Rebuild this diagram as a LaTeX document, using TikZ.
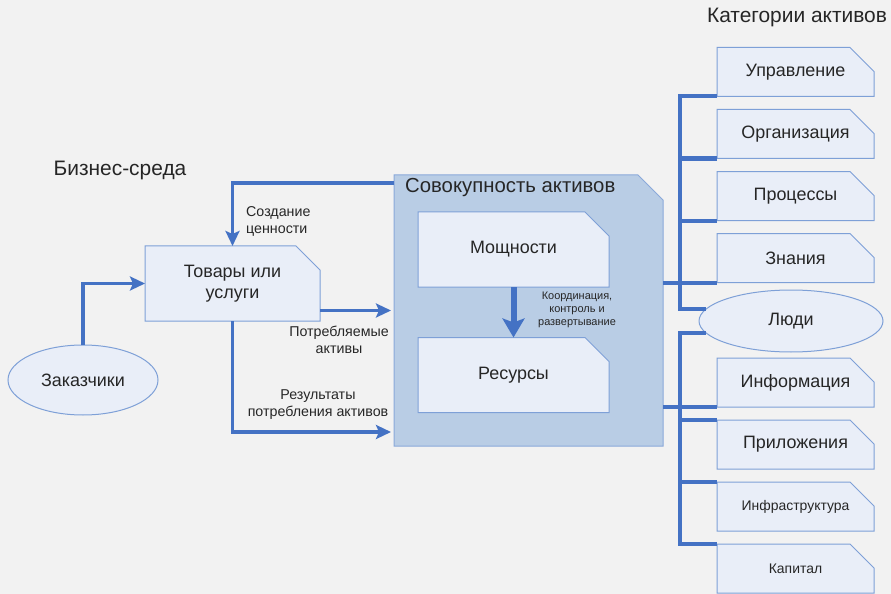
\documentclass[tikz,border=0pt]{standalone}
\usepackage{fontspec}
\setmainfont{Liberation Sans}
\usepackage{xcolor}
\usetikzlibrary{arrows.meta,positioning,shapes.geometric}

\definecolor{bgcol}{HTML}{F2F2F2}
\definecolor{cardfill}{HTML}{E9EEF8}
\definecolor{cardline}{HTML}{7EA0D7}
\definecolor{poolfill}{HTML}{B9CDE5}
\definecolor{poolline}{HTML}{8AA9DA}
\definecolor{flowblue}{HTML}{4472C4}
\definecolor{ink}{HTML}{262626}

\pgfdeclarelayer{background}
\pgfsetlayers{background,main}

\tikzset{
  % rectangle with the top right corner cut off, drawn behind the text
  cut box/.style n args={3}{
    rectangle,
    inner sep=0pt,
    outer sep=0pt,
    align=center,
    text=ink,
    append after command={
      \pgfextra{
        \begin{pgfonlayer}{background}
          \draw[draw=#2, fill=#1, line width=1bp, line join=miter]
            (\tikzlastnode.south west) -- (\tikzlastnode.north west)
            -- ([xshift=-#3]\tikzlastnode.north east)
            -- ([yshift=-#3]\tikzlastnode.north east)
            -- (\tikzlastnode.south east) -- cycle;
        \end{pgfonlayer}
      }
    }
  },
  card/.style={
    cut box={cardfill}{cardline}{24bp},
    font=\fontsize{18}{21}\selectfont
  },
  category/.style={
    card,
    minimum width=157bp,
    minimum height=49bp
  },
  pool/.style={
    cut box={poolfill}{poolline}{25bp}
  },
  client/.style={
    ellipse,
    draw=cardline,
    fill=cardfill,
    line width=1bp,
    inner sep=0pt,
    outer sep=0pt,
    text=ink,
    font=\fontsize{18}{21}\selectfont
  },
  heading/.style={text=ink, font=\fontsize{21}{24}\selectfont, inner sep=0pt},
  note/.style={text=ink, align=center, inner sep=0pt, font=\fontsize{14.3}{17}\selectfont},
  flow/.style={draw=flowblue, line width=3.5bp, -{Stealth[length=15bp,width=14bp,inset=3bp]}},
  bigflow/.style={draw=flowblue, line width=6bp, -{Stealth[length=19bp,width=22bp,inset=4bp]}},
  link/.style={draw=flowblue, line width=4bp}
}

\begin{document}
\begin{tikzpicture}[x=1bp,y=-1bp]
  % backdrop
  \begin{pgfonlayer}{background}
    \fill[bgcol] (0,0) rectangle (891,594);
  \end{pgfonlayer}
  \useasboundingbox (0,0) rectangle (891,594);

  \node[heading] (env) at (120,170) {Бизнес-среда};
  \node[heading] (cathead) at (797,17) {Категории активов};

  % business side
  \node[client, minimum width=150bp, minimum height=70bp] (customers) at (83,380) {Заказчики};
  \node[card, minimum width=175bp, minimum height=75bp] (goods) at (232.5,283.5) {Товары или\\услуги};

  % asset pool
  \node[pool, minimum width=269bp, minimum height=271bp] (pool) at (528.5,310.5) {};
  \node[heading, anchor=west, font=\fontsize{20.4}{23}\selectfont] (pooltitle) at (405,188) {Совокупность активов};
  \node[card, minimum width=191bp, minimum height=75bp] (capab) at (513.5,249.5) {Мощности};
  \node[card, minimum width=191bp, minimum height=75bp] (resources) at (513.5,375) {Ресурсы};

  % categories column
  \node[category] (mgmt) at (795.5,72) {Управление};
  \node[category, below=13bp of mgmt] (org) {Организация};
  \node[category, below=13bp of org] (proc) {Процессы};
  \node[category, below=13bp of proc] (knowl) {Знания};
  \node[client, minimum width=184bp, minimum height=62bp] (people) at (791,321) {Люди};
  \node[category] (info) at (795.5,382.5) {Информация};
  \node[category, below=13bp of info] (apps) {Приложения};
  \node[category, below=13bp of apps, font=\fontsize{14}{17}\selectfont] (infra) {Инфраструктура};
  \node[category, below=13bp of infra, font=\fontsize{14}{17}\selectfont] (capital) {Капитал};

  % flows
  \draw[flow] (customers) |- (goods);
  \draw[flow] ([yshift=-8bp]pool.north west) -| (goods.north);
  \node[note, align=left, anchor=west] (valuelbl) at (246,221) {Создание\\ценности};
  \draw[flow, shorten >=3bp] (goods.east |- pool.west) -- (pool.west);
  \node[note] (usedlbl) at (339,340) {Потребляемые\\активы};
  \draw[flow, shorten >=3bp] (goods.south) |- ([yshift=14bp]pool.south west);
  \node[note] (resultlbl) at (318,405) {Результаты\\потребления активов};
  \draw[bigflow] (capab) -- (resources);
  \node[note, font=\fontsize{11}{13}\selectfont] (coordlbl) at (577,310) {Координация,\\контроль и\\развертывание};

  % category tree
  \coordinate (trunk) at (680,300);
  \draw[link] (mgmt.south west) -| (trunk |- people.172) -- (people.172);
  \foreach \c in {org,proc,knowl}
    \draw[link] (\c.south west) -- (\c.south west -| trunk);
  \draw[link] (pool.east |- knowl.south west) -- (knowl.south west -| trunk);
  \draw[link] (people.188) -- (people.188 -| trunk) |- (capital.north west);
  \draw[link] (pool.east |- info.south west) -- (info.south west);
  \foreach \c in {apps,infra}
    \draw[link] (\c.north west) -- (\c.north west -| trunk);
\end{tikzpicture}
\end{document}
